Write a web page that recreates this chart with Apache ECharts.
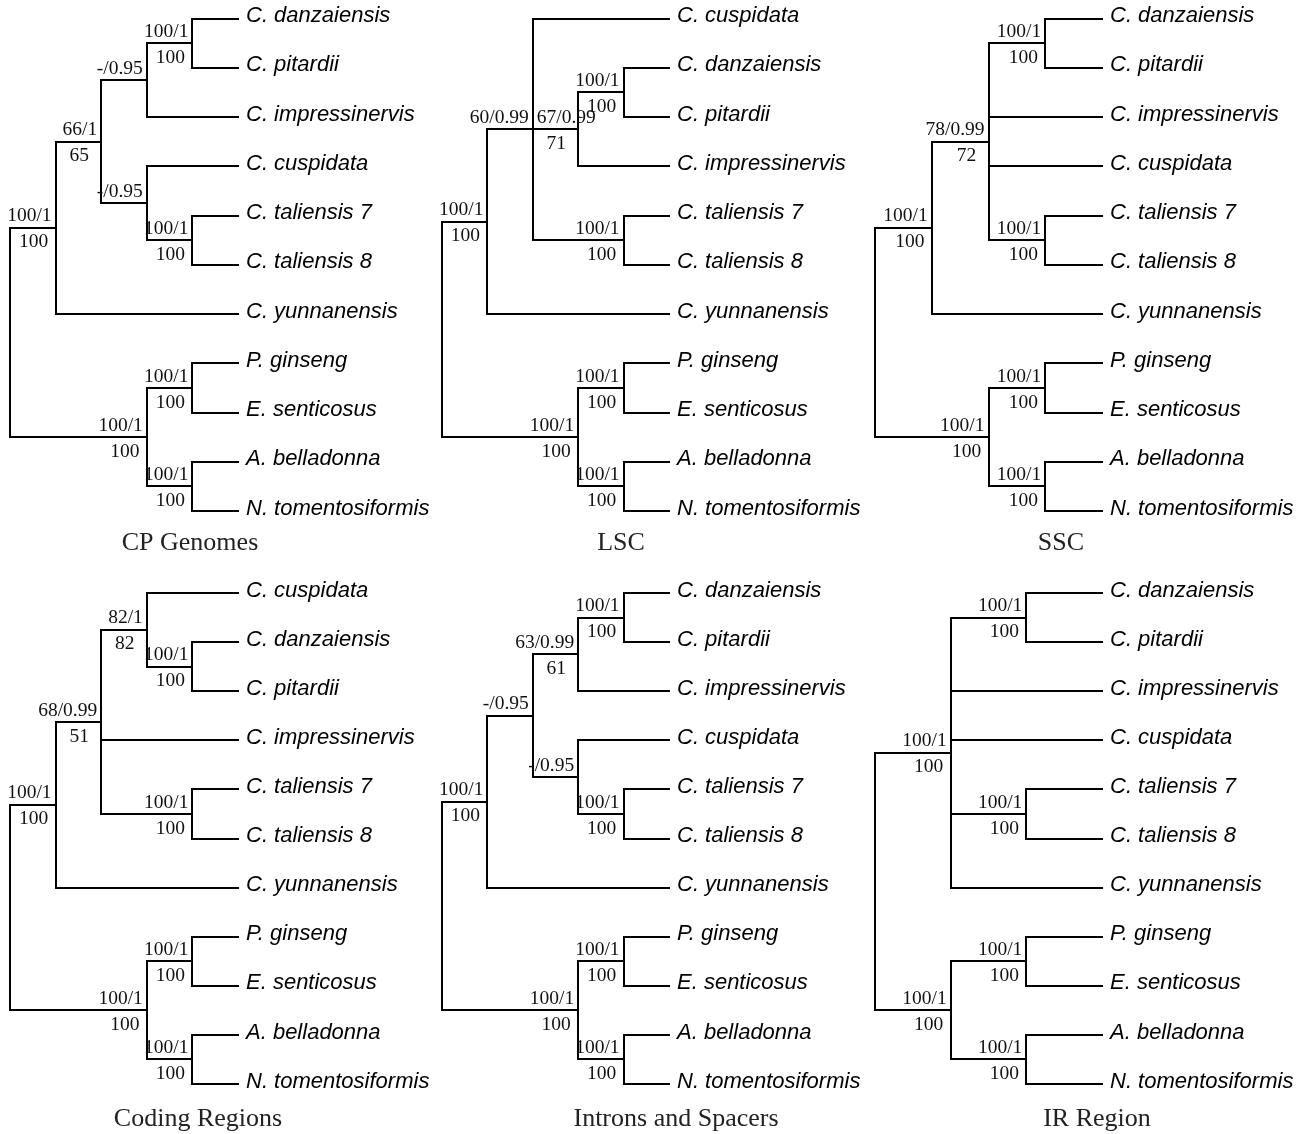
<!DOCTYPE html>
<html>
<head>
<meta charset="utf-8">
<script src="https://cdn.jsdelivr.net/npm/echarts@6/dist/echarts.min.js"></script>
<style>
html,body{margin:0;padding:0;background:#ffffff;}
#chart{width:1308px;height:1134px;}
</style>
</head>
<body>
<div id="chart"></div>
<script>
// ---------------- DATA ----------------
// Each clade: [support above branch, support below branch, ...children]; leaves are taxon names.
const outgroupClade = ['100/1', '100',
  ['100/1', '100', 'P. ginseng', 'E. senticosus'],
  ['100/1', '100', 'A. belladonna', 'N. tomentosiformis']];

const cpGenomesTree = ['', '',
  ['100/1', '100',
    ['66/1', '65',
      ['-/0.95', '', ['100/1', '100', 'C. danzaiensis', 'C. pitardii'], 'C. impressinervis'],
      ['-/0.95', '', 'C. cuspidata', ['100/1', '100', 'C. taliensis 7', 'C. taliensis 8']]],
    'C. yunnanensis'],
  outgroupClade];

const lscTree = ['', '',
  ['100/1', '100',
    ['60/0.99', '',
      'C. cuspidata',
      ['67/0.99', '71', ['100/1', '100', 'C. danzaiensis', 'C. pitardii'], 'C. impressinervis'],
      ['100/1', '100', 'C. taliensis 7', 'C. taliensis 8']],
    'C. yunnanensis'],
  outgroupClade];

const sscTree = ['', '',
  ['100/1', '100',
    ['78/0.99', '72',
      ['100/1', '100', 'C. danzaiensis', 'C. pitardii'],
      'C. impressinervis',
      'C. cuspidata',
      ['100/1', '100', 'C. taliensis 7', 'C. taliensis 8']],
    'C. yunnanensis'],
  outgroupClade];

const codingTree = ['', '',
  ['100/1', '100',
    ['68/0.99', '51',
      ['82/1', '82', 'C. cuspidata', ['100/1', '100', 'C. danzaiensis', 'C. pitardii']],
      'C. impressinervis',
      ['100/1', '100', 'C. taliensis 7', 'C. taliensis 8']],
    'C. yunnanensis'],
  outgroupClade];

const intronsTree = ['', '',
  ['100/1', '100',
    ['-/0.95', '',
      ['63/0.99', '61', ['100/1', '100', 'C. danzaiensis', 'C. pitardii'], 'C. impressinervis'],
      ['-/0.95', '', 'C. cuspidata', ['100/1', '100', 'C. taliensis 7', 'C. taliensis 8']]],
    'C. yunnanensis'],
  outgroupClade];

const irTree = ['', '',
  ['100/1', '100',
    ['100/1', '100', 'C. danzaiensis', 'C. pitardii'],
    'C. impressinervis',
    'C. cuspidata',
    ['100/1', '100', 'C. taliensis 7', 'C. taliensis 8'],
    'C. yunnanensis'],
  outgroupClade];

const panelTrees = [cpGenomesTree, lscTree, sscTree, codingTree, intronsTree, irTree];
const panelTitles = ['CP Genomes', 'LSC', 'SSC', 'Coding Regions', 'Introns and Spacers', 'IR Region'];

// ---------------- LAYOUT / STYLE ----------------
const COL_LEFT = [10, 442, 875];
const COL_WIDTH = [228, 227, 227];
const ROW_TOP = [18.5, 593];
const ROW_HEIGHT = [492.5, 491];
const TITLE_X = [190, 621, 1061, 198, 676, 1097];
const TITLE_Y = [543, 1119];
const NODE_FONT = '19.5px "Liberation Serif"';
const LEAF_FONT = 'italic 22px "Liberation Sans"';
const TITLE_FONT = '26px "Liberation Serif"';

const measureCtx = document.createElement('canvas').getContext('2d');
function textWidth(t, font) { measureCtx.font = font; return measureCtx.measureText(t).width; }

function layoutTree(tree) {
  let leafIndex = 0;
  const nodes = [];
  function walk(n, parent) {
    if (typeof n === 'string') {
      const o = { name: n, leaf: true, h: 0, y: leafIndex++, parent: parent };
      nodes.push(o);
      return o;
    }
    const o = { top: n[0], bottom: n[1], leaf: false, parent: parent, children: [] };
    o.children = n.slice(2).map(function (c) { return walk(c, o); });
    o.h = 1 + Math.max.apply(null, o.children.map(function (c) { return c.h; }));
    o.y = (o.children[0].y + o.children[o.children.length - 1].y) / 2;
    nodes.push(o);
    return o;
  }
  const root = walk(tree, null);
  nodes.forEach(function (n) { n.x = -n.h; });
  return { root: root, nodes: nodes, H: root.h, nLeaves: leafIndex };
}

const grids = [], xAxes = [], yAxes = [], series = [], graphics = [];

panelTrees.forEach(function (tree, i) {
  const col = i % 3, row = Math.floor(i / 3);
  const L = layoutTree(tree);
  grids.push({ left: COL_LEFT[col], width: COL_WIDTH[col], top: ROW_TOP[row], height: ROW_HEIGHT[row], containLabel: false });
  xAxes.push({ gridIndex: i, type: 'value', min: -L.H, max: 0, show: false });
  yAxes.push({ gridIndex: i, type: 'value', min: 0, max: L.nLeaves - 1, inverse: true, show: false });

  const edges = [];
  L.nodes.forEach(function (n) {
    if (n.parent) edges.push([n.parent.x, n.y, n.x, n.y]);
    if (!n.leaf) edges.push([n.x, n.children[0].y, n.x, n.children[n.children.length - 1].y]);
  });
  series.push({
    type: 'custom', coordinateSystem: 'cartesian2d', xAxisIndex: i, yAxisIndex: i,
    silent: true, animation: false,
    encode: { x: [0, 2], y: [1, 3] },
    data: edges,
    renderItem: function (params, api) {
      const a = api.coord([api.value(0), api.value(1)]);
      const b = api.coord([api.value(2), api.value(3)]);
      return {
        type: 'line',
        shape: { x1: Math.round(a[0]), y1: Math.round(a[1]), x2: Math.round(b[0]), y2: Math.round(b[1]) },
        style: { stroke: '#000', lineWidth: 2, lineCap: 'square' }
      };
    }
  });

  const items = L.nodes.filter(function (n) { return n.leaf || (n.parent && (n.top || n.bottom)); });
  series.push({
    type: 'custom', coordinateSystem: 'cartesian2d', xAxisIndex: i, yAxisIndex: i,
    silent: true, animation: false,
    encode: { x: 0, y: 1 },
    data: items.map(function (n) { return [n.x, n.y]; }),
    renderItem: function (params, api) {
      const n = items[params.dataIndex];
      const p = api.coord([api.value(0), api.value(1)]);
      if (n.leaf) {
        return { type: 'text', x: p[0] + 8, y: p[1] - 2.5,
          style: { text: n.name, font: LEAF_FONT, fill: '#000', align: 'left', verticalAlign: 'middle' } };
      }
      const kids = [];
      if (n.top) {
        let right = p[0] - 4;
        const par = n.parent;
        if (par && par.parent && par.top) {
          const pp = api.coord([par.x, par.y]);
          if (Math.abs(pp[1] - p[1]) < 2) {
            const w = textWidth(n.top, NODE_FONT);
            const parRight = pp[0] - 4;
            if (right - w < parRight + 8) right = parRight + 8 + w;
          }
        }
        kids.push({ type: 'text', x: right, y: p[1] - 11.5,
          style: { text: n.top, font: NODE_FONT, fill: '#111', align: 'right', verticalAlign: 'middle' } });
      }
      if (n.bottom) {
        kids.push({ type: 'text', x: p[0] - 22, y: p[1] + 14.5,
          style: { text: n.bottom, font: NODE_FONT, fill: '#111', align: 'center', verticalAlign: 'middle' } });
      }
      return { type: 'group', children: kids };
    }
  });

  graphics.push({ type: 'text', x: TITLE_X[i], y: TITLE_Y[row], silent: true,
    style: { text: panelTitles[i], font: TITLE_FONT, fill: '#222', align: 'center', verticalAlign: 'middle' } });
});

const chart = echarts.init(document.getElementById('chart'), null, { renderer: 'canvas' });
chart.setOption({
  backgroundColor: '#ffffff',
  animation: false,
  grid: grids,
  xAxis: xAxes,
  yAxis: yAxes,
  series: series,
  graphic: graphics
});
</script>
</body>
</html>
